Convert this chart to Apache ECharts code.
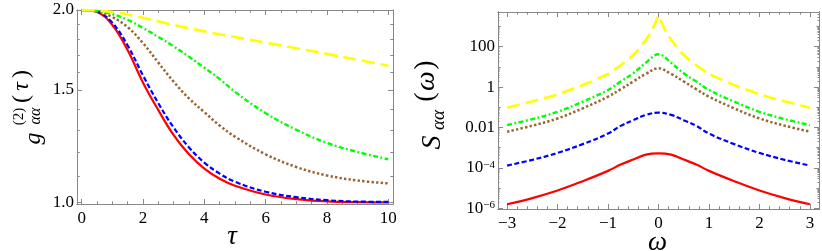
<!DOCTYPE html>
<html><head><meta charset="utf-8">
<script src="https://cdn.jsdelivr.net/npm/echarts@6/dist/echarts.min.js"></script>
<style>html,body{margin:0;padding:0;background:#fff}#c{width:822px;height:251px}</style>
</head><body><div id="c"></div>
<script>
// ---------- data: left panel g2(tau) ----------
const tau    = [0, 0.5, 1, 1.5, 2, 2.5, 3, 3.5, 4, 4.5, 5, 6, 7, 8, 9, 10];
const gRed   = [2.0, 1.985, 1.895, 1.73, 1.54, 1.395, 1.275, 1.19, 1.13, 1.09, 1.063, 1.03, 1.013, 1.005, 1.002, 1.001];
const gBlue  = [2.0, 1.988, 1.91, 1.76, 1.58, 1.43, 1.31, 1.22, 1.155, 1.11, 1.078, 1.04, 1.02, 1.009, 1.004, 1.003];
const gBrown = [2.0, 1.99, 1.95, 1.88, 1.775, 1.655, 1.545, 1.455, 1.385, 1.32, 1.268, 1.19, 1.137, 1.103, 1.083, 1.072];
const gGreen = [2.0, 1.993, 1.97, 1.93, 1.875, 1.815, 1.755, 1.69, 1.625, 1.56, 1.49, 1.38, 1.30, 1.24, 1.20, 1.169];
const gYellow= [2.0, 1.996, 1.985, 1.968, 1.945, 1.92, 1.895, 1.873, 1.852, 1.833, 1.815, 1.779, 1.743, 1.708, 1.672, 1.637];

// ---------- data: right panel S(omega) ----------
const omega   = [-3, -2.5, -2, -1.5, -1, -0.75, -0.5, -0.25, 0, 0.25, 0.5, 0.75, 1, 1.5, 2, 2.5, 3];
const sRed    = [1.58e-6, 3.2e-6, 7.6e-6, 2.2e-5, 7.1e-5, 1.45e-4, 2.6e-4, 4.5e-4, 5.2e-4, 4.5e-4, 2.6e-4, 1.45e-4, 7.1e-5, 2.2e-5, 7.6e-6, 3.2e-6, 1.58e-6];
const sBlue   = [1.3e-4, 2.5e-4, 5.5e-4, 1.5e-3, 5.0e-3, 0.012, 0.023, 0.042, 0.054, 0.042, 0.023, 0.012, 5.0e-3, 1.5e-3, 5.5e-4, 2.5e-4, 1.3e-4];
const sBrown  = [0.0062, 0.0123, 0.028, 0.089, 0.335, 0.78, 1.9, 4.5, 8.5, 4.5, 1.9, 0.78, 0.335, 0.089, 0.028, 0.0123, 0.0062];
const sGreen  = [0.0132, 0.026, 0.060, 0.19, 0.72, 1.9, 4.8, 16, 42, 16, 4.8, 1.9, 0.72, 0.19, 0.060, 0.026, 0.0132];
const omegaYellow = [-3, -2.5, -2, -1.5, -1, -0.75, -0.5, -0.3, -0.15, -0.05, 0, 0.05, 0.15, 0.3, 0.5, 0.75, 1, 1.5, 2, 2.5, 3];
const sYellow = [0.095, 0.20, 0.44, 1.26, 4.5, 12, 39, 150, 520, 1800, 3500, 1800, 520, 150, 39, 12, 4.5, 1.26, 0.44, 0.20, 0.095];

// ---------- ticks ----------
const tauTicks = [0, 2, 4, 6, 8, 10];
const tauTickLabels = ['0', '2', '4', '6', '8', '10'];
const gTicks = [1.0, 1.5, 2.0];
const gTickLabels = ['1.0', '1.5', '2.0'];
const omegaTicks = [-3, -2, -1, 0, 1, 2, 3];
const omegaTickLabels = ['\u22123', '\u22122', '\u22121', '0', '1', '2', '3'];
const sTicks = [1e-6, 1e-4, 1e-2, 1, 100];
const sTickLabels = ['{b|10}{s|\u22126}', '{b|10}{s|\u22124}', '0.01', '1', '100'];

// minor tick positions
const tauMinor = []; for (let i = 0; i <= 20; i++) if (i % 4) tauMinor.push(i * 0.5);
const gMinor = []; for (let i = 11; i <= 19; i++) if (i !== 15) gMinor.push(i / 10);
const omegaMinor = []; for (let i = -15; i <= 15; i++) if (i % 5) omegaMinor.push(i / 5);
const sOdd = [1e-5, 1e-3, 1e-1, 10, 1000];
const sTiny = []; for (let e = -7; e <= 3; e++) for (let k = 2; k <= 9; k++) sTiny.push(k * Math.pow(10, e));

const FRAME = '#888888';
const FONT = '"Liberation Serif", "Times New Roman", "DejaVu Serif", serif';

function lab(ticks, labels) {
  return function (v) {
    let best = 0, bd = Infinity;
    ticks.forEach((t, i) => { const d = Math.abs(Math.log(Math.abs(t) + 1e-12) - Math.log(Math.abs(v) + 1e-12)) + Math.abs(t - v); if (d < bd) { bd = d; best = i; } });
    return labels[best];
  };
}

function axis(kind, gridIndex, pos, min, max, ticks, len, labelCfg) {
  const a = {
    type: kind, gridIndex: gridIndex, position: pos, min: min, max: max, offset: 0,
    splitLine: { show: false }, splitArea: { show: false },
    axisLine: { show: true, onZero: false, lineStyle: { color: FRAME, width: 1 } },
    axisTick: { show: true, inside: true, length: len, customValues: ticks, lineStyle: { color: FRAME, width: 1 } },
    minorTick: { show: false },
    axisLabel: { show: false },
    axisPointer: { show: false },
    silent: true
  };
  if (kind === 'log') a.logBase = 10;
  if (labelCfg) {
    a.axisLabel = Object.assign({
      show: true, customValues: ticks, color: '#000', fontFamily: FONT, fontSize: 17
    }, labelCfg);
  }
  return a;
}

const L = { xmin: -0.153, xmax: 10.153, ymin: 0.9953, ymax: 2.0 };
const R = { xmin: -3.18, xmax: 3.18, ymin: 9.2e-7, ymax: 5230 };

const xAxis = [
  axis('value', 0, 'bottom', L.xmin, L.xmax, tauTicks, 5, { margin: 6, formatter: lab(tauTicks, tauTickLabels) }),
  axis('value', 0, 'bottom', L.xmin, L.xmax, tauMinor, 2.7),
  axis('value', 0, 'top', L.xmin, L.xmax, tauTicks, 5),
  axis('value', 0, 'top', L.xmin, L.xmax, tauMinor, 2.7),
  axis('value', 1, 'bottom', R.xmin, R.xmax, omegaTicks, 5, { margin: 6, formatter: lab(omegaTicks, omegaTickLabels) }),
  axis('value', 1, 'bottom', R.xmin, R.xmax, omegaMinor, 2.7),
  axis('value', 1, 'top', R.xmin, R.xmax, omegaTicks, 5),
  axis('value', 1, 'top', R.xmin, R.xmax, omegaMinor, 2.7)
];
const yAxis = [
  axis('log', 0, 'left', L.ymin, L.ymax, gTicks, 5, { margin: 3, formatter: lab(gTicks, gTickLabels) }),
  axis('log', 0, 'left', L.ymin, L.ymax, gMinor, 2.7),
  axis('log', 0, 'right', L.ymin, L.ymax, gTicks, 5),
  axis('log', 0, 'right', L.ymin, L.ymax, gMinor, 2.7),
  axis('log', 1, 'left', R.ymin, R.ymax, sTicks, 5, {
    margin: 3, formatter: lab(sTicks, sTickLabels),
    rich: {
      b: { fontFamily: FONT, fontSize: 17, color: '#000' },
      s: { fontFamily: FONT, fontSize: 11, color: '#000', verticalAlign: 'top', padding: [0, 0, 6, 0] }
    }
  }),
  axis('log', 1, 'left', R.ymin, R.ymax, sOdd, 2.7),
  axis('log', 1, 'left', R.ymin, R.ymax, sTiny, 1.5),
  axis('log', 1, 'right', R.ymin, R.ymax, sTicks, 5),
  axis('log', 1, 'right', R.ymin, R.ymax, sOdd, 2.7),
  axis('log', 1, 'right', R.ymin, R.ymax, sTiny, 1.5)
];

function pairs(xs, ys) { return xs.map((x, i) => [x, ys[i]]); }
function line(name, xi, yi, xs, ys, color, type, width) {
  return {
    name: name, type: 'line', xAxisIndex: xi, yAxisIndex: yi,
    data: pairs(xs, ys), showSymbol: false, symbol: 'none',
    smooth: 0.4,
    lineStyle: { color: color, width: width || 2.2, type: type, cap: 'butt' },
    z: 3, silent: true
  };
}

const RED = '#ff0000', BLUE = '#0000ff', BROWN = '#996633', GREEN = '#00ff00', YELLOW = '#ffff00';
const DASH_BLUE = [5, 2.5], DOT = [2.4, 2.2], DASHDOT = [5, 2.5, 1.8, 2.5], DASH_LONG = [13, 6];

const series = [
  line('red', 0, 0, tau, gRed, RED, 'solid'),
  line('blue', 0, 0, tau, gBlue, BLUE, DASH_BLUE),
  line('brown', 0, 0, tau, gBrown, BROWN, DOT, 2.5),
  line('green', 0, 0, tau, gGreen, GREEN, DASHDOT, 2.4),
  line('yellow', 0, 0, tau, gYellow, YELLOW, DASH_LONG, 2.6),
  line('red', 4, 4, omega, sRed, RED, 'solid'),
  line('blue', 4, 4, omega, sBlue, BLUE, DASH_BLUE),
  line('brown', 4, 4, omega, sBrown, BROWN, DOT, 2.5),
  line('green', 4, 4, omega, sGreen, GREEN, DASHDOT, 2.4),
  line('yellow', 4, 4, omegaYellow, sYellow, YELLOW, DASH_LONG, 2.6)
];
series[9].smooth = 0.2;

function t(text, x, y, size, italic, extra) {
  return Object.assign({
    type: 'text', x: x, y: y, silent: true,
    style: { text: text, fontFamily: FONT, fontSize: size, fontStyle: italic ? 'italic' : 'normal', fill: '#000', align: 'center', verticalAlign: 'middle' }
  }, extra || {});
}

const graphic = [
  { type: 'group', x: 22, y: 145, rotation: Math.PI / 2, silent: true, children: [
    t('g', 6.5, 12, 24, true),
    t('(2)', 28.5, -3, 15, false),
    t('\u03b1\u03b1', 29, 14, 16, true),
    t('(', 46, 0, 24, false),
    t('\u03c4', 58.5, 0, 24, true),
    t(')', 71, 0, 24, false)
  ]},
  { type: 'group', x: 426, y: 152, rotation: Math.PI / 2, silent: true, children: [
    t('S', 9.5, 6.5, 28, true),
    t('\u03b1\u03b1', 32, 13, 19, true),
    t('(', 55, 0, 28, false),
    t('\u03c9', 71, 1, 28, true),
    t(')', 87, 0, 28, false)
  ]},
  t('\u03c4', 232, 237, 27, true),
  t('\u03c9', 657.5, 243, 27, true)
];

const chart = echarts.init(document.getElementById('c'), null, { renderer: 'canvas' });
chart.setOption({
  animation: false,
  backgroundColor: '#ffffff',
  textStyle: { fontFamily: FONT },
  grid: [
    { left: 77, top: 10, width: 316, height: 194, outerBoundsMode: 'none', containLabel: false },
    { left: 498, top: 12, width: 321, height: 197, outerBoundsMode: 'none', containLabel: false }
  ],
  xAxis: xAxis,
  yAxis: yAxis,
  series: series,
  graphic: graphic
});
</script>
</body></html>
